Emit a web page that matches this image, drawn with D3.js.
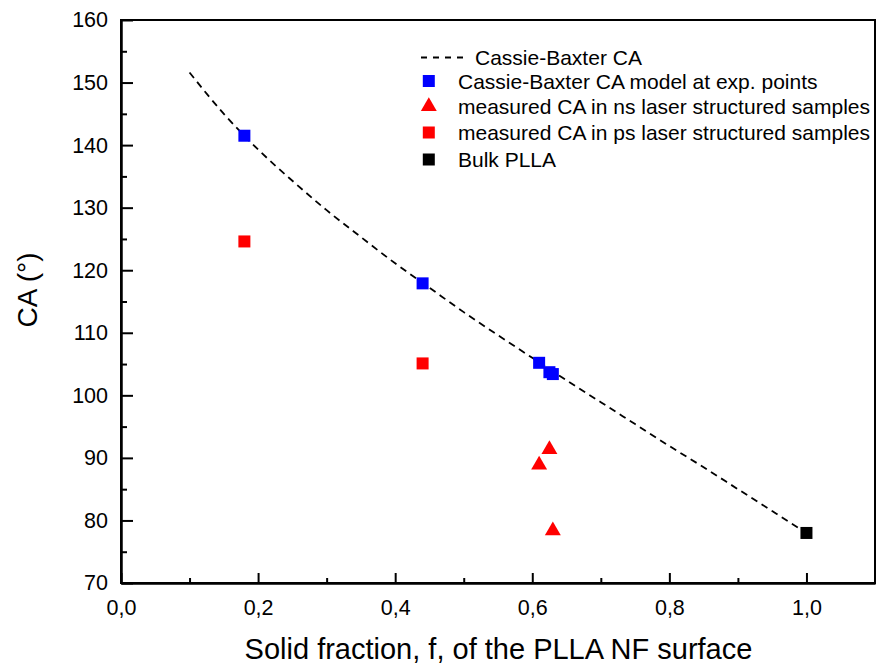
<!DOCTYPE html>
<html>
<head>
<meta charset="utf-8">
<script src="https://cdn.jsdelivr.net/npm/d3@7"></script>
<style>
  html, body { margin: 0; padding: 0; background: #fff; }
  svg { display: block; font-family: "Liberation Sans", Arial, sans-serif; }
</style>
</head>
<body>
<svg id="chart" width="877" height="666"></svg>
<script>
// ---- Data ----
const curveFraction = [0.10, 0.15, 0.20, 0.25, 0.30, 0.35, 0.40, 0.45, 0.50, 0.55, 0.60, 0.65, 0.70, 0.75, 0.80, 0.85, 0.90, 0.95, 1.00];
const curveCA       = [151.6, 145.0, 139.3, 134.3, 129.6, 125.3, 121.1, 117.2, 113.3, 109.6, 106.0, 102.4, 98.9, 95.4, 91.9, 88.5, 85.0, 81.5, 78.0];

const cbFraction = [0.18, 0.44, 0.61, 0.625, 0.63];
const cbCA       = [141.5, 117.9, 105.2, 103.7, 103.4];

const nsFraction = [0.61, 0.625, 0.63];
const nsCA       = [89.1, 91.6, 78.6];

const psFraction = [0.18, 0.44];
const psCA       = [124.6, 105.1];

const bulkFraction = [1.0];
const bulkCA       = [78.0];

const xMajorTicks = [0.0, 0.2, 0.4, 0.6, 0.8, 1.0];
const xMinorTicks = [0.1, 0.3, 0.5, 0.7, 0.9];
const yMajorTicks = [70, 80, 90, 100, 110, 120, 130, 140, 150, 160];
const yMinorTicks = [75, 85, 95, 105, 115, 125, 135, 145, 155];

const legendLabels = [
  "Cassie-Baxter CA",
  "Cassie-Baxter CA model at exp. points",
  "measured CA in ns laser structured samples",
  "measured CA in ps laser structured samples",
  "Bulk PLLA"
];

// ---- Layout ----
const svg = d3.select("#chart");
const pLeft = 121, pTop = 20, pRight = 875, pBottom = 583;

const x = d3.scaleLinear().domain([0, 1.1]).range([pLeft, pRight]);
const y = d3.scaleLinear().domain([70, 160]).range([pBottom, pTop]);

const fmtX = d => d3.format(".1f")(d).replace(".", ",");

// frame
svg.append("rect")
  .attr("x", pLeft).attr("y", pTop)
  .attr("width", pRight - pLeft).attr("height", pBottom - pTop)
  .attr("fill", "none").attr("stroke", "#000").attr("stroke-width", 2);

// x axis
const gx = svg.append("g").attr("transform", `translate(0,${pBottom})`)
  .call(d3.axisBottom(x).tickValues(xMajorTicks).tickFormat(fmtX)
    .tickSizeInner(-10).tickSizeOuter(0).tickPadding(17));
const gxm = svg.append("g").attr("transform", `translate(0,${pBottom})`)
  .call(d3.axisBottom(x).tickValues(xMinorTicks).tickFormat("")
    .tickSizeInner(-5).tickSizeOuter(0));

// y axis
const gy = svg.append("g").attr("transform", `translate(${pLeft},0)`)
  .call(d3.axisLeft(y).tickValues(yMajorTicks).tickFormat(d3.format("d"))
    .tickSizeInner(-12).tickSizeOuter(0).tickPadding(13));
const gym = svg.append("g").attr("transform", `translate(${pLeft},0)`)
  .call(d3.axisLeft(y).tickValues(yMinorTicks).tickFormat("")
    .tickSizeInner(-6).tickSizeOuter(0));

[gx, gxm, gy, gym].forEach(g => {
  g.select(".domain").attr("stroke", "#000").attr("stroke-width", 2);
  g.selectAll(".tick line").attr("stroke", "#000").attr("stroke-width", 2);
  g.selectAll(".tick text").attr("fill", "#000")
    .style("font-family", "'Liberation Sans', Arial, sans-serif")
    .style("font-size", "21.5px");
});

// axis titles
svg.append("text")
  .attr("x", 498.5).attr("y", 659)
  .attr("text-anchor", "middle")
  .style("font-size", "29px")
  .text("Solid fraction, f, of the PLLA NF surface");

svg.append("text")
  .attr("transform", "translate(37,290) rotate(-90)")
  .attr("text-anchor", "middle")
  .style("font-size", "28px")
  .text("CA (°)");

// Cassie-Baxter curve
const lineGen = d3.line()
  .x((d, i) => x(curveFraction[i]))
  .y((d, i) => y(curveCA[i]))
  .curve(d3.curveMonotoneX);
svg.append("path")
  .datum(curveCA)
  .attr("d", lineGen)
  .attr("fill", "none")
  .attr("stroke", "#000")
  .attr("stroke-width", 1.8)
  .attr("stroke-dasharray", "7,5");

// markers
const sq = 12;
function squares(fr, ca, color) {
  svg.append("g").selectAll("rect")
    .data(ca)
    .join("rect")
    .attr("x", (d, i) => x(fr[i]) - sq / 2)
    .attr("y", d => y(d) - sq / 2)
    .attr("width", sq).attr("height", sq)
    .attr("fill", color);
}
const tri = d3.symbol().type(d3.symbolTriangle).size(110);
function triangles(fr, ca, color) {
  svg.append("g").selectAll("path")
    .data(ca)
    .join("path")
    .attr("d", tri)
    .attr("transform", (d, i) => `translate(${x(fr[i])},${y(d) + 1.5})`)
    .attr("fill", color);
}

squares(psFraction, psCA, "#ff0000");
squares(cbFraction, cbCA, "#0000ff");
triangles(nsFraction, nsCA, "#ff0000");
squares(bulkFraction, bulkCA, "#000000");

// legend
const legRows = [57.5, 81, 106.5, 132.5, 159.5];
const lg = svg.append("g");
lg.append("line")
  .attr("x1", 421).attr("x2", 468)
  .attr("y1", legRows[0]).attr("y2", legRows[0])
  .attr("stroke", "#000").attr("stroke-width", 1.8)
  .attr("stroke-dasharray", "6,6");
lg.append("text").attr("x", 475).attr("y", legRows[0]).attr("dy", "0.36em")
  .style("font-size", "21px").text(legendLabels[0]);

const mk = 428.8;
lg.append("rect").attr("x", mk - sq / 2).attr("y", legRows[1] - sq / 2)
  .attr("width", sq).attr("height", sq).attr("fill", "#0000ff");
lg.append("path").attr("d", tri)
  .attr("transform", `translate(${mk},${legRows[2]})`).attr("fill", "#ff0000");
lg.append("rect").attr("x", mk - sq / 2).attr("y", legRows[3] - sq / 2)
  .attr("width", sq).attr("height", sq).attr("fill", "#ff0000");
lg.append("rect").attr("x", mk - sq / 2).attr("y", legRows[4] - sq / 2)
  .attr("width", sq).attr("height", sq).attr("fill", "#000000");

for (let i = 1; i < legendLabels.length; i++) {
  lg.append("text").attr("x", 458).attr("y", legRows[i]).attr("dy", "0.36em")
    .style("font-size", "21px").text(legendLabels[i]);
}
</script>
</body>
</html>
